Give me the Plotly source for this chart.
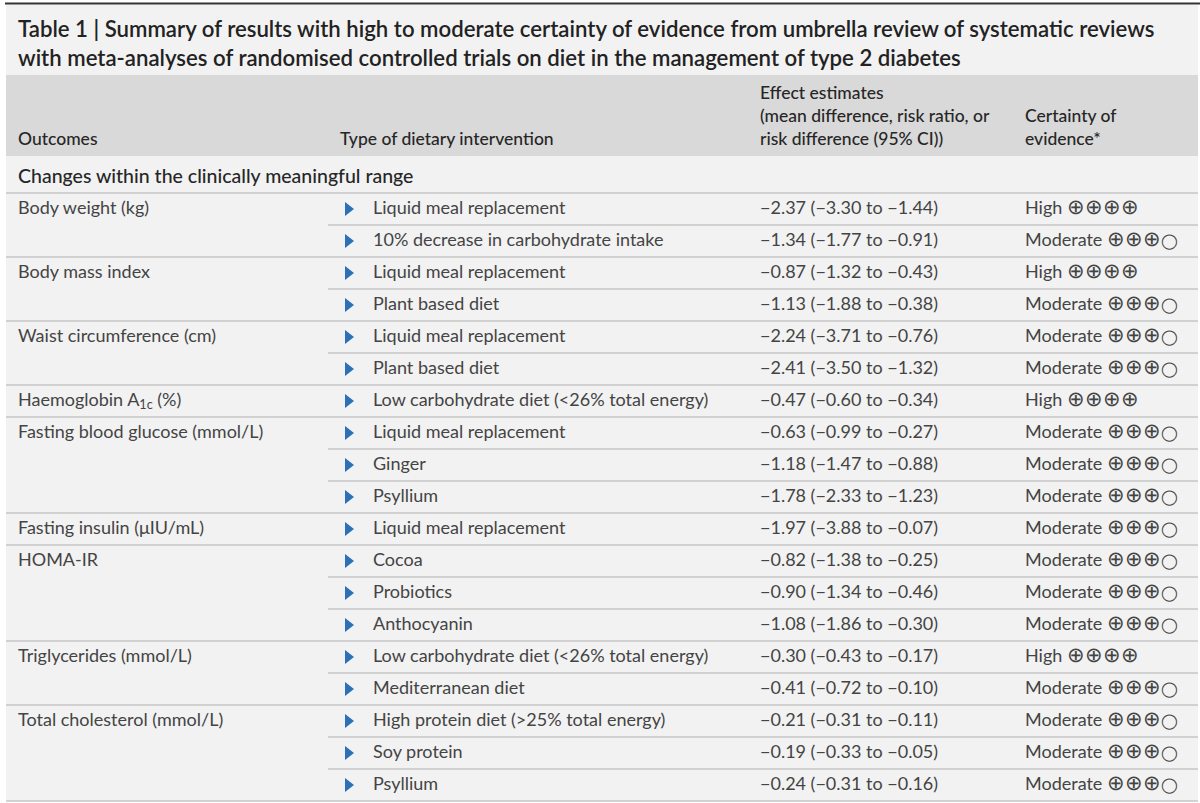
import plotly.graph_objects as go

# --- table content ---
title_lines = [
    "Table 1 | Summary of results with high to moderate certainty of evidence from umbrella review of systematic reviews",
    "with meta-analyses of randomised controlled trials on diet in the management of type 2 diabetes",
]
section_label = "Changes within the clinically meaningful range"

outcome_groups = [
    "Body weight (kg)",
    "Body mass index",
    "Waist circumference (cm)",
    "Haemoglobin A<sub>1c</sub> (%)",
    "Fasting blood glucose (mmol/L)",
    "Fasting insulin (μIU/mL)",
    "HOMA-IR",
    "Triglycerides (mmol/L)",
    "Total cholesterol (mmol/L)",
]
group_sizes = [2, 2, 2, 1, 3, 1, 3, 2, 3]

interventions = [
    "Liquid meal replacement",
    "10% decrease in carbohydrate intake",
    "Liquid meal replacement",
    "Plant based diet",
    "Liquid meal replacement",
    "Plant based diet",
    "Low carbohydrate diet (&lt;26% total energy)",
    "Liquid meal replacement",
    "Ginger",
    "Psyllium",
    "Liquid meal replacement",
    "Cocoa",
    "Probiotics",
    "Anthocyanin",
    "Low carbohydrate diet (&lt;26% total energy)",
    "Mediterranean diet",
    "High protein diet (&gt;25% total energy)",
    "Soy protein",
    "Psyllium",
]

effects = [
    "−2.37 (−3.30 to −1.44)",
    "−1.34 (−1.77 to −0.91)",
    "−0.87 (−1.32 to −0.43)",
    "−1.13 (−1.88 to −0.38)",
    "−2.24 (−3.71 to −0.76)",
    "−2.41 (−3.50 to −1.32)",
    "−0.47 (−0.60 to −0.34)",
    "−0.63 (−0.99 to −0.27)",
    "−1.18 (−1.47 to −0.88)",
    "−1.78 (−2.33 to −1.23)",
    "−1.97 (−3.88 to −0.07)",
    "−0.82 (−1.38 to −0.25)",
    "−0.90 (−1.34 to −0.46)",
    "−1.08 (−1.86 to −0.30)",
    "−0.30 (−0.43 to −0.17)",
    "−0.41 (−0.72 to −0.10)",
    "−0.21 (−0.31 to −0.11)",
    "−0.19 (−0.33 to −0.05)",
    "−0.24 (−0.31 to −0.16)",
]

certainty = [
    "High", "Moderate", "High", "Moderate", "Moderate", "Moderate", "High",
    "Moderate", "Moderate", "Moderate", "Moderate", "Moderate", "Moderate",
    "Moderate", "High", "Moderate", "Moderate", "Moderate", "Moderate",
]
# GRADE symbols: filled (⊕) and empty (◯) per level
grade_plus = {"High": 4, "Moderate": 3}

header_cols = [
    "Outcomes",
    "Type of dietary intervention",
    "Effect estimates<br>(mean difference, risk ratio, or<br>risk difference (95% CI))",
    "Certainty of<br>evidence*",
]

# --- layout (pixel space) ---
W, H = 1200, 803
FONT = "Lato, 'Open Sans', sans-serif"
TXT = "#444444"
HEAD_TXT = "#262626"
LINE = "#c6c6c6"
BG = "#f2f2f2"
HEAD_BG = "#d9d9d9"
col_x = [18, 340, 760, 1025]
arrow_x = 348
interv_x = 373
sub_line_x = 328
body_top = 193
row_h = 32
n_rows = len(interventions)
BODY_SIZE = 18

row_y = [body_top + row_h * i + row_h / 2 for i in range(n_rows)]

starts = []
s = 0
for n in group_sizes:
    starts.append(s)
    s += n


def grade_label(level):
    n_plus = grade_plus[level]
    sym = "<span style='font-size:21px'>" + "⊕" * n_plus + "</span>"
    if n_plus < 4:
        sym += "<span style='font-size:15px'>" + "◯" * (4 - n_plus) + "</span>"
    return level + " " + sym


fig = go.Figure()

shapes = [
    dict(type="rect", x0=6, x1=1198, y0=5, y1=75, fillcolor=BG, line_width=0, layer="below"),
    dict(type="rect", x0=6, x1=1198, y0=75, y1=156, fillcolor=HEAD_BG, line_width=0, layer="below"),
    dict(type="rect", x0=6, x1=1198, y0=156, y1=body_top + row_h * n_rows, fillcolor=BG,
         line_width=0, layer="below"),
    dict(type="line", x0=5, x1=W, y0=3.5, y1=3.5, line=dict(color="#333333", width=2)),
    dict(type="line", x0=6, x1=1198, y0=body_top, y1=body_top, line=dict(color=LINE, width=1.5)),
]
for i in range(1, n_rows + 1):
    yb = body_top + row_h * i
    x0 = 6 if (i in starts or i == n_rows) else sub_line_x
    shapes.append(dict(type="line", x0=x0, x1=1198, y0=yb, y1=yb, line=dict(color=LINE, width=1.5)))

body_font = dict(family=FONT, size=BODY_SIZE, color=TXT)

# outcome names (first row of each group)
fig.add_trace(go.Scatter(
    x=[col_x[0]] * len(outcome_groups), y=[row_y[k] for k in starts],
    text=outcome_groups, mode="text", textposition="middle right",
    textfont=body_font, hoverinfo="skip",
))
# arrows
fig.add_trace(go.Scatter(
    x=[arrow_x] * n_rows, y=row_y, mode="markers",
    marker=dict(symbol="triangle-right", size=12, color="#2e6fba", line_width=0),
    hoverinfo="skip",
))
fig.add_trace(go.Scatter(
    x=[interv_x] * n_rows, y=row_y, text=interventions, mode="text",
    textposition="middle right", textfont=body_font, hoverinfo="skip",
))
fig.add_trace(go.Scatter(
    x=[col_x[2]] * n_rows, y=row_y, text=effects, mode="text",
    textposition="middle right", textfont=body_font, hoverinfo="skip",
))
fig.add_trace(go.Scatter(
    x=[col_x[3]] * n_rows, y=row_y,
    text=[grade_label(c) for c in certainty], mode="text",
    textposition="middle right", textfont=body_font, hoverinfo="skip",
))

annotations = []
for j, line in enumerate(title_lines):
    annotations.append(dict(
        x=col_x[0] - 2, y=28 + 29 * j, text=line, showarrow=False, xanchor="left", yanchor="middle",
        font=dict(family=FONT, size=22.2, color="#222222", weight=600),
    ))
for j, h in enumerate(header_cols):
    annotations.append(dict(
        x=col_x[j] - 2, y=151, text=h, showarrow=False, xanchor="left", yanchor="bottom",
        align="left", font=dict(family=FONT, size=17.5, color=HEAD_TXT, weight=500),
    ))
annotations.append(dict(
    x=col_x[0] - 2, y=175, text=section_label, showarrow=False, xanchor="left", yanchor="middle",
    font=dict(family=FONT, size=19.5, color=HEAD_TXT, weight=500),
))

fig.update_layout(
    width=W, height=H, margin=dict(l=0, r=0, t=0, b=0),
    paper_bgcolor="white", plot_bgcolor="white", showlegend=False,
    xaxis=dict(range=[0, W], visible=False, fixedrange=True),
    yaxis=dict(range=[H, 0], visible=False, fixedrange=True),
    shapes=shapes, annotations=annotations,
)

fig.write_html(
    "out.html",
    config={"displayModeBar": False},
    post_script="document.body.style.margin = '0';",
)
